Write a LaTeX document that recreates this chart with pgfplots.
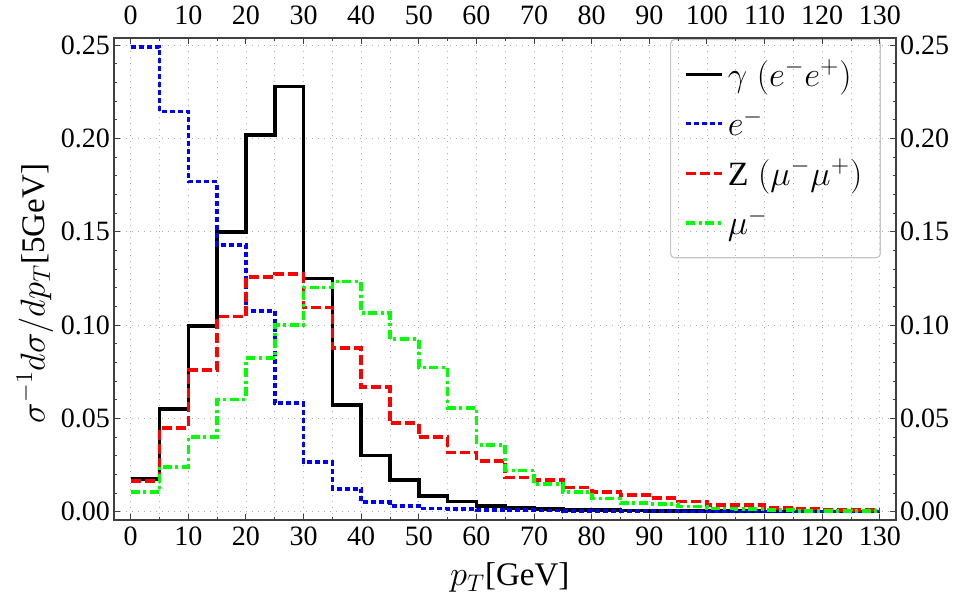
\documentclass[border=0pt]{standalone}
\usepackage{fontspec}
\setmainfont{Liberation Serif}
\usepackage{pgfplots}
\usepackage{pgfplotstable}
\pgfplotsset{compat=1.18}

% normalised pT spectra, 5 GeV bins (left edge), last row repeats the last bin
\pgfplotstableread{
x    gam     em      Z       mu
0    0.0174  0.2490  0.0166  0.0104
5    0.0549  0.2144  0.0447  0.0241
10   0.0995  0.1769  0.0759  0.0399
15   0.1497  0.1429  0.1045  0.0602
20   0.2017  0.1076  0.1259  0.0822
25   0.2278  0.0581  0.1272  0.1000
30   0.1250  0.0265  0.1093  0.1202
35   0.0572  0.0122  0.0876  0.1233
40   0.0302  0.0051  0.0667  0.1063
45   0.0170  0.0030  0.0474  0.0924
50   0.0084  0.0018  0.0399  0.0772
55   0.0054  0.0014  0.0318  0.0557
60   0.0030  0.0010  0.0272  0.0357
65   0.0020  0.0008  0.0184  0.0220
70   0.0013  0.0006  0.0170  0.0147
75   0.0010  0.0005  0.0129  0.0107
80   0.0008  0.0004  0.0104  0.0070
85   0.0006  0.0003  0.0089  0.0045
90   0.0005  0.0003  0.0072  0.0041
95   0.0004  0.0002  0.0054  0.0027
100  0.0003  0.0002  0.0036  0.0018
105  0.0003  0.0002  0.0036  0.0014
110  0.0002  0.0001  0.0021  0.0009
115  0.0002  0.0001  0.0018  0.0005
120  0.0001  0.0001  0.0009  0.0005
125  0.0001  0.0001  0.0009  0.0004
130  0.0001  0.0001  0.0009  0.0004
}\pthist

\definecolor{mblue}{rgb}{0,0,1}
\definecolor{mred}{rgb}{1,0,0}
\definecolor{mgreen}{rgb}{0,1,0}

\pgfplotsset{
  frame/.style={
    scale only axis, width=391pt, height=241pt,
    xmin=-2.9, xmax=132.8, ymin=-0.00445, ymax=0.2538,
    xtick={0,10,...,130}, ytick={0,0.05,0.1,0.15,0.2,0.25},
    minor x tick num=1, minor y tick num=4,
    major tick length=3pt, minor tick length=1.6pt,
    tick style={black!75, line width=0.5pt},
    axis line style={black!75, line width=0.6pt},
    ticklabel style={font=\fontsize{14}{16}\selectfont},
    /pgf/number format/assume math mode=true,
    yticklabel style={/pgf/number format/fixed,
      /pgf/number format/fixed zerofill, /pgf/number format/precision=2},
  },
  hist/.style={const plot, line width=1.8pt, line join=miter},
}

\begin{document}
\begin{tikzpicture}
\useasboundingbox (-57pt,-42.5pt) rectangle (422.5pt,260pt);
\begin{axis}[frame,
  xmajorgrids, xminorgrids, ymajorgrids,
  grid style={gray!65, line width=0.45pt, dash pattern=on 0.7pt off 2.3pt},
  minor grid style={gray!65, line width=0.45pt, dash pattern=on 0.7pt off 2.3pt},
  yticklabel style={xshift=1.5pt},
  xlabel={$p_T$[GeV]},
  ylabel={$\sigma^{-1}d\sigma/dp_T$[5GeV]},
  label style={font=\fontsize{16.5}{18}\selectfont},
  xlabel style={at={(axis description cs:0.506,-0.12)}, anchor=center},
  ylabel style={at={(axis description cs:-0.101,0.47)}, anchor=center},
  legend cell align=left,
  legend image code/.code={\draw[#1, line width=1.6pt] (0pt,0pt) -- (18pt,0pt);},
  legend style={at={(axis description cs:0.711,0.998)}, anchor=north west,
    draw=gray!45, line width=0.6pt, rounded corners=2pt, fill=none,
    font=\fontsize{17}{19}\selectfont, row sep=6pt,
    inner xsep=7pt, inner ysep=8pt},
]
\addplot[hist, black] table[x=x, y=gam] {\pthist};
\addlegendentry{$\gamma\;(e^-e^+)$\hspace{8pt}}
\addplot[hist, mblue, dash pattern=on 2.5pt off 1.5pt] table[x=x, y=em] {\pthist};
\addlegendentry{$e^-$}
\addplot[hist, mred, dash pattern=on 5pt off 2pt] table[x=x, y=Z] {\pthist};
\addlegendentry{Z$\;(\mu^-\mu^+)$}
\addplot[hist, mgreen, dash pattern=on 4.5pt off 1.8pt on 1.5pt off 1.8pt] table[x=x, y=mu] {\pthist};
\addlegendentry{$\mu^-$}
\end{axis}
% same frame again, for the tick labels on top and right
\begin{axis}[frame,
  xticklabel pos=upper, yticklabel pos=right,
  xticklabel style={yshift=3pt},
  yticklabel style={xshift=-1.5pt},
]
\addplot[draw=none] coordinates {(0,0)};
\end{axis}
\end{tikzpicture}
\end{document}
